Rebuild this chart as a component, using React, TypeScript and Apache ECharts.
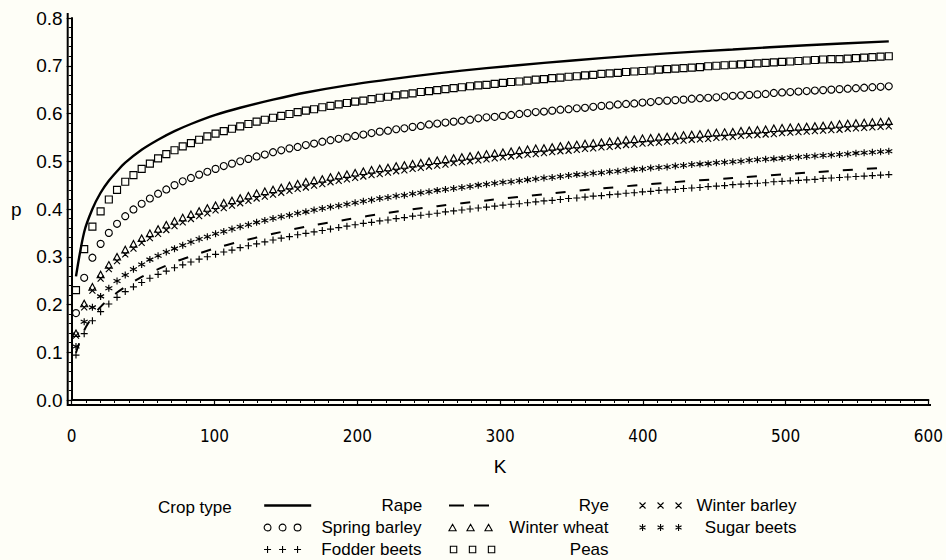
import React, { useEffect, useRef } from "react";
import * as echarts from "echarts";

// Sample points along K shared by the marker series
const kValues = [
  3, 8.75, 14.5, 20.25, 26, 31.75, 37.5, 43.25, 49, 54.75,
  60.5, 66.25, 72, 77.75, 83.5, 89.25, 95, 100.75, 106.5, 112.25,
  118, 123.75, 129.5, 135.25, 141, 146.75, 152.5, 158.25, 164, 169.75,
  175.5, 181.25, 187, 192.75, 198.5, 204.25, 210, 215.75, 221.5, 227.25,
  233, 238.75, 244.5, 250.25, 256, 261.75, 267.5, 273.25, 279, 284.75,
  290.5, 296.25, 302, 307.75, 313.5, 319.25, 325, 330.75, 336.5, 342.25,
  348, 353.75, 359.5, 365.25, 371, 376.75, 382.5, 388.25, 394, 399.75,
  405.5, 411.25, 417, 422.75, 428.5, 434.25, 440, 445.75, 451.5, 457.25,
  463, 468.75, 474.5, 480.25, 486, 491.75, 497.5, 503.25, 509, 514.75,
  520.5, 526.25, 532, 537.75, 543.5, 549.25, 555, 560.75, 566.5, 572.25,
];

// Sample points along K for the two line series
const lineK = [
  3, 8.75, 14.5, 20.25, 26, 31.75, 37.5, 49, 60.5, 72, 83.5, 100.75, 118,
  141, 164, 192.75, 221.5, 256, 290.5, 330.75, 371, 417, 463, 514.75, 572.25,
];

const rape = [
  0.259, 0.352, 0.4, 0.434, 0.459, 0.479, 0.497, 0.524, 0.545, 0.563, 0.578, 0.597, 0.612,
  0.629, 0.644, 0.659, 0.671, 0.684, 0.695, 0.706, 0.716, 0.726, 0.734, 0.743, 0.751,
];

const rye = [
  0.099, 0.146, 0.174, 0.195, 0.211, 0.225, 0.237, 0.258, 0.274, 0.289, 0.301, 0.318, 0.332,
  0.348, 0.363, 0.378, 0.392, 0.406, 0.418, 0.431, 0.443, 0.455, 0.465, 0.476, 0.487,
];

const peas = [
  0.23, 0.316, 0.363, 0.395, 0.42, 0.44, 0.457, 0.471, 0.484, 0.495,
  0.506, 0.515, 0.523, 0.531, 0.538, 0.545, 0.552, 0.558, 0.563, 0.568,
  0.573, 0.578, 0.583, 0.587, 0.591, 0.595, 0.599, 0.603, 0.606, 0.609,
  0.613, 0.616, 0.619, 0.622, 0.625, 0.627, 0.63, 0.633, 0.635, 0.638,
  0.64, 0.642, 0.645, 0.647, 0.649, 0.651, 0.653, 0.655, 0.657, 0.659,
  0.66, 0.662, 0.664, 0.666, 0.667, 0.669, 0.671, 0.672, 0.674, 0.675,
  0.677, 0.678, 0.68, 0.681, 0.683, 0.684, 0.685, 0.687, 0.688, 0.689,
  0.69, 0.692, 0.693, 0.694, 0.695, 0.696, 0.697, 0.699, 0.7, 0.701,
  0.702, 0.703, 0.704, 0.705, 0.706, 0.707, 0.708, 0.709, 0.71, 0.711,
  0.712, 0.713, 0.714, 0.714, 0.715, 0.716, 0.717, 0.718, 0.719, 0.72,
];

const springBarley = [
  0.182, 0.256, 0.298, 0.327, 0.35, 0.369, 0.385, 0.399, 0.411, 0.422,
  0.432, 0.441, 0.45, 0.458, 0.465, 0.472, 0.478, 0.484, 0.49, 0.495,
  0.5, 0.505, 0.51, 0.514, 0.519, 0.523, 0.527, 0.53, 0.534, 0.537,
  0.541, 0.544, 0.547, 0.55, 0.553, 0.556, 0.559, 0.562, 0.564, 0.567,
  0.569, 0.572, 0.574, 0.577, 0.579, 0.581, 0.583, 0.585, 0.587, 0.59,
  0.592, 0.593, 0.595, 0.597, 0.599, 0.601, 0.603, 0.604, 0.606, 0.608,
  0.609, 0.611, 0.612, 0.614, 0.616, 0.617, 0.619, 0.62, 0.621, 0.623,
  0.624, 0.626, 0.627, 0.628, 0.629, 0.631, 0.632, 0.633, 0.634, 0.636,
  0.637, 0.638, 0.639, 0.64, 0.641, 0.643, 0.644, 0.645, 0.646, 0.647,
  0.648, 0.649, 0.65, 0.651, 0.652, 0.653, 0.654, 0.655, 0.656, 0.657,
];

const winterWheat = [
  0.14, 0.202, 0.237, 0.263, 0.283, 0.3, 0.315, 0.327, 0.339, 0.349,
  0.358, 0.367, 0.375, 0.382, 0.389, 0.396, 0.402, 0.408, 0.413, 0.418,
  0.423, 0.428, 0.433, 0.437, 0.441, 0.445, 0.449, 0.453, 0.457, 0.46,
  0.463, 0.467, 0.47, 0.473, 0.476, 0.479, 0.482, 0.485, 0.487, 0.49,
  0.492, 0.495, 0.497, 0.5, 0.502, 0.504, 0.507, 0.509, 0.511, 0.513,
  0.515, 0.517, 0.519, 0.521, 0.523, 0.525, 0.527, 0.528, 0.53, 0.532,
  0.534, 0.535, 0.537, 0.538, 0.54, 0.542, 0.543, 0.545, 0.546, 0.548,
  0.549, 0.551, 0.552, 0.553, 0.555, 0.556, 0.557, 0.559, 0.56, 0.561,
  0.562, 0.564, 0.565, 0.566, 0.567, 0.569, 0.57, 0.571, 0.572, 0.573,
  0.574, 0.575, 0.576, 0.578, 0.579, 0.58, 0.581, 0.582, 0.583, 0.584,
];

const winterBarley = [
  0.135, 0.194, 0.229, 0.254, 0.274, 0.291, 0.305, 0.317, 0.329, 0.339,
  0.348, 0.356, 0.364, 0.372, 0.379, 0.385, 0.391, 0.397, 0.402, 0.407,
  0.412, 0.417, 0.422, 0.426, 0.43, 0.434, 0.438, 0.442, 0.445, 0.449,
  0.452, 0.456, 0.459, 0.462, 0.465, 0.468, 0.471, 0.473, 0.476, 0.479,
  0.481, 0.484, 0.486, 0.489, 0.491, 0.493, 0.496, 0.498, 0.5, 0.502,
  0.504, 0.506, 0.508, 0.51, 0.512, 0.514, 0.515, 0.517, 0.519, 0.521,
  0.522, 0.524, 0.526, 0.527, 0.529, 0.53, 0.532, 0.534, 0.535, 0.537,
  0.538, 0.539, 0.541, 0.542, 0.543, 0.545, 0.546, 0.547, 0.549, 0.55,
  0.551, 0.553, 0.554, 0.555, 0.556, 0.557, 0.559, 0.56, 0.561, 0.562,
  0.563, 0.564, 0.565, 0.566, 0.568, 0.569, 0.57, 0.571, 0.572, 0.573,
];

const sugarBeets = [
  0.112, 0.164, 0.194, 0.217, 0.234, 0.249, 0.262, 0.274, 0.284, 0.294,
  0.302, 0.31, 0.317, 0.324, 0.331, 0.337, 0.342, 0.348, 0.353, 0.358,
  0.363, 0.367, 0.372, 0.376, 0.38, 0.384, 0.387, 0.391, 0.394, 0.398,
  0.401, 0.404, 0.407, 0.41, 0.413, 0.416, 0.419, 0.422, 0.424, 0.427,
  0.429, 0.432, 0.434, 0.436, 0.439, 0.441, 0.443, 0.445, 0.447, 0.45,
  0.452, 0.454, 0.456, 0.457, 0.459, 0.461, 0.463, 0.465, 0.466, 0.468,
  0.47, 0.472, 0.473, 0.475, 0.476, 0.478, 0.479, 0.481, 0.483, 0.484,
  0.486, 0.487, 0.488, 0.49, 0.491, 0.493, 0.494, 0.495, 0.497, 0.498,
  0.499, 0.5, 0.502, 0.503, 0.504, 0.505, 0.506, 0.508, 0.509, 0.51,
  0.511, 0.512, 0.513, 0.514, 0.515, 0.517, 0.518, 0.519, 0.52, 0.521,
];

const fodderBeets = [
  0.094, 0.139, 0.166, 0.185, 0.201, 0.215, 0.227, 0.237, 0.246, 0.255,
  0.263, 0.27, 0.277, 0.283, 0.289, 0.295, 0.3, 0.305, 0.31, 0.314,
  0.319, 0.323, 0.327, 0.331, 0.335, 0.339, 0.342, 0.346, 0.349, 0.352,
  0.355, 0.358, 0.361, 0.364, 0.367, 0.37, 0.372, 0.375, 0.377, 0.38,
  0.382, 0.385, 0.387, 0.389, 0.391, 0.394, 0.396, 0.398, 0.4, 0.402,
  0.404, 0.406, 0.408, 0.41, 0.411, 0.413, 0.415, 0.417, 0.418, 0.42,
  0.422, 0.423, 0.425, 0.427, 0.428, 0.43, 0.431, 0.433, 0.434, 0.436,
  0.437, 0.439, 0.44, 0.441, 0.443, 0.444, 0.445, 0.447, 0.448, 0.449,
  0.451, 0.452, 0.453, 0.454, 0.455, 0.457, 0.458, 0.459, 0.46, 0.461,
  0.462, 0.464, 0.465, 0.466, 0.467, 0.468, 0.469, 0.47, 0.471, 0.472,
];

const xTicks = { min: 0, max: 600, step: 100 };
const yTicks = { min: 0, max: 0.8, step: 0.1 };

const FONT = "'Liberation Sans', Arial, Helvetica, sans-serif";
const NARROW = "'Liberation Sans Narrow', 'DejaVu Sans Condensed', 'Liberation Sans', Arial, sans-serif";
const INK = "#000";

// Marker glyphs drawn as stroked paths
const PLUS = "path://M5 0 L5 10 M0 5 L10 5";
const CROSS = "path://M0 0 L10 10 M10 0 L0 10";
const STAR = "path://M5 0 L5 10 M0.67 2.5 L9.33 7.5 M0.67 7.5 L9.33 2.5";

// Legend swatches: three glyphs spread over a w x 8 box
const triple = (w: number, glyph: (cx: number) => string) =>
  `path://M0 0 M${w} 8 ` + [4, w / 2, w - 4].map(glyph).join(" ");
const circleAt = (cx: number) =>
  `M${cx - 3.4} 4 A3.4 3.4 0 1 0 ${cx + 3.4} 4 A3.4 3.4 0 1 0 ${cx - 3.4} 4 Z`;
const plusAt = (cx: number) => `M${cx} 0.5 L${cx} 7.5 M${cx - 3.5} 4 L${cx + 3.5} 4`;
const crossAt = (cx: number) => `M${cx - 3} 1 L${cx + 3} 7 M${cx + 3} 1 L${cx - 3} 7`;
const starAt = (cx: number) =>
  `M${cx} 0.5 L${cx} 7.5 M${cx - 3} 2.25 L${cx + 3} 5.75 M${cx - 3} 5.75 L${cx + 3} 2.25`;
const triAt = (cx: number) => `M${cx} 0.8 L${cx + 3.6} 7.2 L${cx - 3.6} 7.2 Z`;
const squareAt = (cx: number) =>
  `M${cx - 3.2} 0.8 L${cx + 3.2} 0.8 L${cx + 3.2} 7.2 L${cx - 3.2} 7.2 Z`;

const outline = (w: number) => ({ color: "rgba(0,0,0,0)", borderColor: INK, borderWidth: w });

const LEGEND_FONT = 17;

const legendEntry = (
  name: string,
  icon: string,
  left: number,
  rowCenter: number,
  itemWidth: number,
  textRight: number,
  strokeWidth: number
) => ({
  show: true,
  selectedMode: false,
  orient: "horizontal",
  left,
  top: rowCenter - 10,
  padding: 0,
  itemWidth,
  itemHeight: 8,
  data: [{ name, icon, itemStyle: outline(strokeWidth) }],
  formatter: (n: string) => `{t|${n}}`,
  textStyle: {
    rich: {
      t: {
        width: textRight - (left + itemWidth + 5),
        align: "right",
        fontSize: LEGEND_FONT,
        lineHeight: 20,
        fontFamily: FONT,
        color: INK,
      },
    },
  },
});

const ROW1 = 507;
const ROW2 = 529;
const ROW3 = 551;
const COL1 = 263;
const COL2 = 448;
const COL3 = 638;

const pairs = (xs: number[], ys: number[]) => xs.map((x, i) => [x, ys[i]]);

const markerSeries = (name: string, ys: number[], symbol: string, size: number | number[]) => ({
  name,
  type: "line",
  data: pairs(kValues, ys),
  symbol,
  symbolSize: size,
  showSymbol: true,
  lineStyle: { width: 0, opacity: 0 },
  itemStyle: outline(1.15),
  silent: true,
});

export default function App() {
  const ref = useRef<HTMLDivElement>(null);

  useEffect(() => {
    if (!ref.current) return;
    const chart = echarts.init(ref.current, undefined, { renderer: "svg" });
    chart.setOption({
      animation: false,
      backgroundColor: "#fefef7",
      textStyle: { fontFamily: FONT, color: INK },
      grid: { left: 71.7, right: 17.3, top: 18, bottom: 160, containLabel: false },
      xAxis: {
        type: "value",
        min: xTicks.min,
        max: xTicks.max,
        interval: xTicks.step,
        offset: 5,
        name: "K",
        nameLocation: "middle",
        nameGap: 52,
        nameTextStyle: { fontSize: 19, fontFamily: FONT, color: INK },
        axisLine: { lineStyle: { color: INK, width: 2 } },
        axisTick: { length: 5, lineStyle: { color: INK, width: 1.2 } },
        minorTick: { show: true, splitNumber: 10, length: 3, lineStyle: { color: INK, width: 1 } },
        splitLine: { show: false },
        axisLabel: { margin: 22, fontSize: 17, fontFamily: NARROW, color: INK },
      },
      yAxis: {
        type: "value",
        min: yTicks.min,
        max: yTicks.max,
        interval: yTicks.step,
        offset: 4,
        name: "p",
        nameLocation: "middle",
        nameRotate: 0,
        nameGap: 46,
        nameTextStyle: { fontSize: 19, fontFamily: FONT, color: INK },
        axisLine: { lineStyle: { color: INK, width: 2 } },
        axisTick: { length: 5, lineStyle: { color: INK, width: 1.2 } },
        minorTick: { show: true, splitNumber: 5, length: 3, lineStyle: { color: INK, width: 1 } },
        splitLine: { show: false },
        axisLabel: {
          margin: 5,
          fontSize: 19,
          fontFamily: FONT,
          color: INK,
          formatter: (v: number) => v.toFixed(1),
        },
      },
      legend: [
        legendEntry("Rape", "path://M0 0 M47 8 M0 4 L47 4", COL1, ROW1, 47, 421, 2.4),
        legendEntry("Spring barley", triple(38, circleAt), COL1, ROW2, 38, 421, 1.1),
        legendEntry("Fodder beets", triple(38, plusAt), COL1, ROW3, 38, 421, 1.1),
        legendEntry("Rye", "path://M0 0 M40 8 M0 4 L15 4 M25 4 L40 4", COL2, ROW1, 40, 608, 2),
        legendEntry("Winter wheat", triple(44, triAt), COL2, ROW2, 44, 608, 1.1),
        legendEntry("Peas", triple(46, squareAt), COL2 + 1, ROW3, 46, 608, 1.1),
        legendEntry("Winter barley", triple(44, crossAt), COL3, ROW1, 44, 796, 1.1),
        legendEntry("Sugar beets", triple(44, starAt), COL3, ROW2, 44, 796, 1.1),
      ],
      graphic: [
        {
          type: "text",
          left: 158,
          top: ROW1 - 10,
          style: { text: "Crop type", fontSize: LEGEND_FONT, fontFamily: FONT, fill: INK, lineHeight: 20 },
        },
        {
          type: "polyline",
          shape: { points: [[67.7, 13], [67.7, 405], [931, 405]] },
          style: { stroke: INK, lineWidth: 2, fill: "none" },
          silent: true,
        },
      ],
      series: [
        {
          name: "Rape",
          type: "line",
          data: pairs(lineK, rape),
          showSymbol: false,
          symbol: "none",
          smooth: 0.3,
          lineStyle: { color: INK, width: 2.4 },
          silent: true,
        },
        {
          name: "Rye",
          type: "line",
          data: pairs(lineK, rye),
          showSymbol: false,
          symbol: "none",
          smooth: 0.3,
          lineStyle: { color: INK, width: 2, type: [10, 14] },
          silent: true,
        },
        markerSeries("Peas", peas, "rect", 7),
        markerSeries("Spring barley", springBarley, "circle", 7),
        markerSeries("Winter wheat", winterWheat, "triangle", [7, 6.5]),
        markerSeries("Winter barley", winterBarley, CROSS, 6),
        markerSeries("Sugar beets", sugarBeets, STAR, 7),
        markerSeries("Fodder beets", fodderBeets, PLUS, 7),
      ],
    });
    return () => chart.dispose();
  }, []);

  return (
    <div
      ref={ref}
      style={{ position: "fixed", left: 0, top: 0, width: 946, height: 560 }}
    />
  );
}
